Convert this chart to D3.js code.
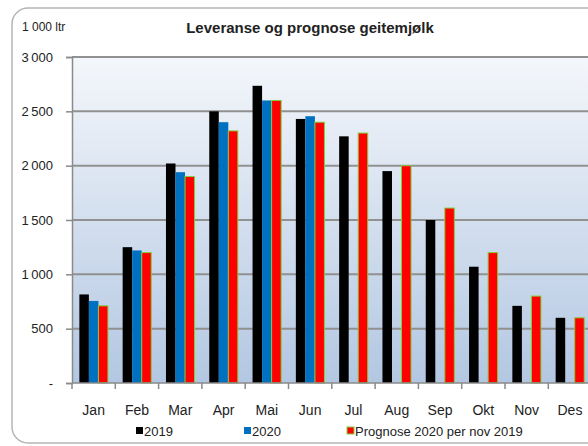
<!DOCTYPE html>
<html>
<head>
<meta charset="utf-8">
<script src="https://cdn.jsdelivr.net/npm/d3@7"></script>
<style>
  body { margin: 0; background: #fff; }
  text { font-family: "Liberation Sans Narrow", "Arial Narrow", "Liberation Sans", sans-serif; fill: #222; }
</style>
</head>
<body>
<div id="chart"></div>
<script>
// måneder og verdier (1 000 ltr)
const months = ["Jan", "Feb", "Mar", "Apr", "Mai", "Jun", "Jul", "Aug", "Sep", "Okt", "Nov", "Des"];
const v2019 = [815, 1250, 2020, 2500, 2735, 2430, 2270, 1950, 1500, 1070, 710, 600];
const v2020 = [755, 1220, 1940, 2400, 2600, 2455, null, null, null, null, null, null];
const prognose = [710, 1200, 1900, 2320, 2600, 2400, 2300, 2000, 1610, 1200, 800, 600];
const seriesNames = ["2019", "2020", "Prognose 2020 per nov 2019"];
const yTicks = [0, 500, 1000, 1500, 2000, 2500, 3000];

const width = 588, height = 446;
const margin = { left: 72, top: 57, bottom: 63 };
const step = 43.3;

var svg = d3.select("#chart").append("svg")
  .attr("width", width).attr("height", height);

// gradient for plottområdet
var defs = svg.append("defs");
var grad = defs.append("linearGradient").attr("id", "bg")
  .attr("x1", 0).attr("y1", 0).attr("x2", 0).attr("y2", 1);
grad.append("stop").attr("offset", "0%").attr("stop-color", "#f4f7fb");
grad.append("stop").attr("offset", "100%").attr("stop-color", "#b3c7e2");

// ytre ramme
svg.append("rect")
  .attr("x", 12).attr("y", 8).attr("width", 600).attr("height", 435)
  .attr("rx", 16).attr("fill", "#fff").attr("stroke", "#b5b5b5").attr("stroke-width", 1.5);

var x0 = d3.scaleBand()
  .domain(months)
  .range([margin.left, margin.left + step * months.length])
  .paddingInner(0.34).paddingOuter(0.17);

var x1 = d3.scaleBand().domain([0, 1, 2]).range([0, x0.bandwidth()]);

var y = d3.scaleLinear().domain([0, 3000]).range([height - margin.bottom, margin.top]);

// plottbakgrunn
svg.append("rect")
  .attr("x", margin.left).attr("y", y(3000))
  .attr("width", step * months.length).attr("height", y(0) - y(3000))
  .attr("fill", "url(#bg)");

// rutenett
svg.selectAll(".grid")
  .data(yTicks.filter((d) => d > 0))
  .enter().append("line")
  .attr("x1", margin.left).attr("x2", margin.left + step * months.length)
  .attr("y1", (d) => y(d)).attr("y2", (d) => y(d))
  .attr("stroke", "#919191").attr("stroke-width", 2);

// y-akse
var yAxis = svg.append("g")
  .attr("transform", "translate(" + margin.left + ",0)")
  .call(d3.axisLeft(y).tickValues(yTicks).tickSize(6).tickPadding(13)
    .tickFormat((d) => d === 0 ? "-" : d3.format(",")(d).replace(",", "\u2009")));
yAxis.select(".domain").attr("stroke", "#8a8a8a").attr("stroke-width", 1.5);
yAxis.selectAll(".tick line").attr("stroke", "#8a8a8a").attr("stroke-width", 1.5);
yAxis.selectAll("text").style("font-size", "13px").attr("fill", "#222");

// søyler
var groups = svg.selectAll(".month")
  .data(months)
  .enter().append("g")
  .attr("transform", (d) => "translate(" + x0(d) + ",0)");

var colors = ["#000000", "#0070c0", "#ff0000"];
var strokes = ["none", "none", "#7fd13b"];

groups.selectAll("rect")
  .data((d, i) => [v2019[i], v2020[i], prognose[i]].map((v, k) => ({ k: k, v: v })))
  .enter()
  .filter((d) => d.v != null)
  .append("rect")
  .attr("x", (d) => x1(d.k))
  .attr("width", x1.bandwidth())
  .attr("y", (d) => y(d.v))
  .attr("height", (d) => y(0) - y(d.v))
  .attr("fill", (d) => colors[d.k])
  .attr("stroke", (d) => strokes[d.k])
  .attr("stroke-width", 1);

// x-akse
var xAxisG = svg.append("g").attr("transform", "translate(0," + y(0) + ")");
xAxisG.append("line")
  .attr("x1", margin.left).attr("x2", margin.left + step * months.length)
  .attr("stroke", "#8a8a8a").attr("stroke-width", 1.5);
xAxisG.selectAll(".xt")
  .data(d3.range(months.length + 1))
  .enter().append("line")
  .attr("x1", (i) => margin.left + i * step).attr("x2", (i) => margin.left + i * step)
  .attr("y1", 0).attr("y2", 6)
  .attr("stroke", "#8a8a8a").attr("stroke-width", 1.5);
xAxisG.selectAll(".xl")
  .data(months)
  .enter().append("text")
  .attr("x", (d) => x0(d) + x0.bandwidth() / 2)
  .attr("y", 32)
  .attr("text-anchor", "middle")
  .style("font-size", "14px")
  .text((d) => d);

// tittel
svg.append("text")
  .attr("x", 310).attr("y", 33)
  .attr("text-anchor", "middle")
  .style("font-size", "15px").style("font-weight", "bold")
  .text("Leveranse og prognose geitemjølk");

svg.append("text")
  .attr("x", 22).attr("y", 31)
  .style("font-size", "12px")
  .text("1 000 ltr");

// forklaring
var legendX = [136, 244, 347];
var legend = svg.selectAll(".legend")
  .data(seriesNames)
  .enter().append("g")
  .attr("transform", (d, i) => "translate(" + legendX[i] + ",430)");
legend.append("rect")
  .attr("x", 0).attr("y", -3).attr("width", 7).attr("height", 7)
  .attr("fill", (d, i) => colors[i])
  .attr("stroke", (d, i) => strokes[i]).attr("stroke-width", 1);
legend.append("text")
  .attr("x", 8).attr("y", 6)
  .style("font-size", "13px")
  .text((d) => d);
</script>
</body>
</html>
